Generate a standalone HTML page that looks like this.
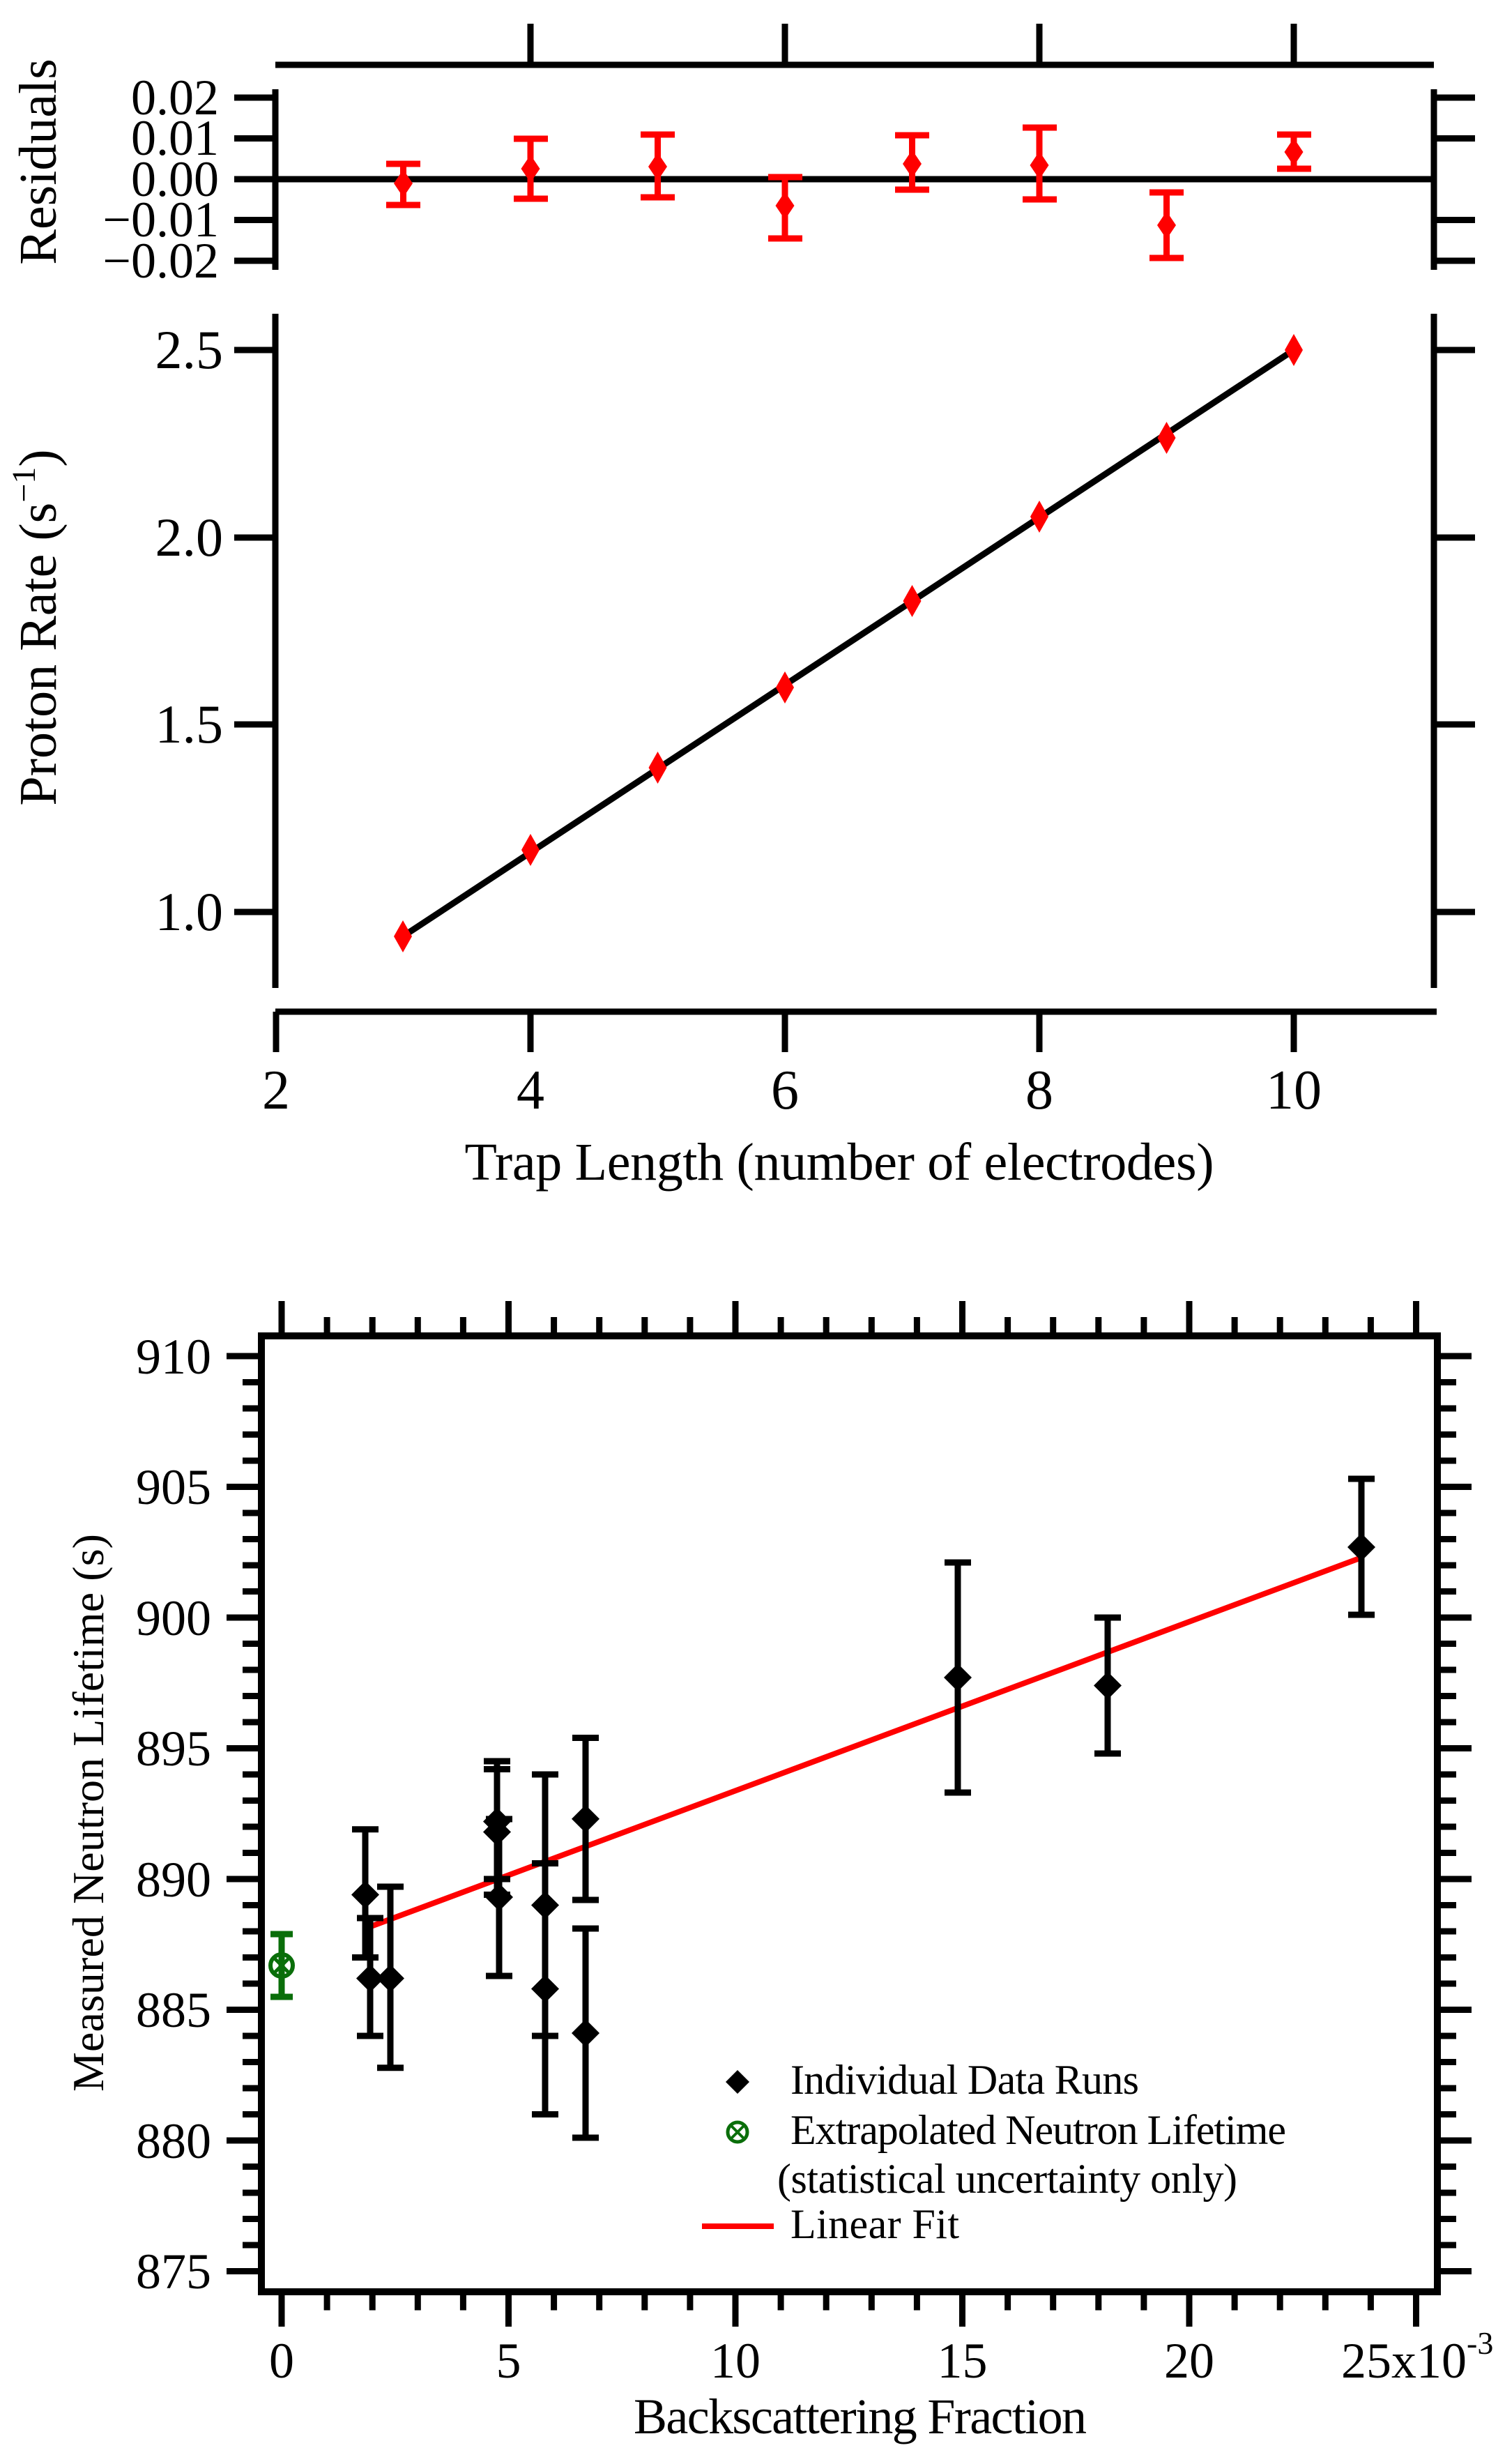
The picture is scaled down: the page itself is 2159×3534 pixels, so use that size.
<!DOCTYPE html>
<html><head><meta charset="utf-8"><style>
html,body{margin:0;padding:0;background:#fff;}
svg{display:block;}
text{font-family:"Liberation Serif",serif;fill:#000;}
</style></head><body>
<svg width="2159" height="3534" viewBox="0 0 2159 3534" xmlns="http://www.w3.org/2000/svg">
<rect width="2159" height="3534" fill="#fff"/>
<g stroke="#000" stroke-width="9" fill="none">
<path d="M395,93H2057 M761,34V93 M1126,34V93 M1491,34V93 M1856,34V93"/>
<path d="M395,128V387 M2057,128V387 M336,140H395 M336,198.5H395 M336,257H395 M336,315.5H395 M336,374H395 M2057,140H2116 M2057,198.5H2116 M2057,315.5H2116 M2057,374H2116"/>
<path d="M395,257H2057"/>
<path d="M395,450V1417 M2057,450V1417 M336,502H395 M336,771H395 M336,1039H395 M336,1308H395 M2057,502H2116 M2057,771H2116 M2057,1039H2116 M2057,1308H2116"/>
<path d="M395,1451H2061 M396,1451V1509 M761,1451V1509 M1126,1451V1509 M1491,1451V1509 M1856,1451V1509"/>
<path d="M578,1343L1856,502"/>
</g>
<g stroke="#f00" stroke-width="9" fill="none">
<path d="M578.5,235V294 M554,235h49 M554,294h49
M761,199V285 M737,199h49 M737,285h49
M943.5,193V283 M919,193h49 M919,283h49
M1126,254V342 M1102,254h49 M1102,342h49
M1308.5,194V272 M1284,194h49 M1284,272h49
M1491,183V286 M1467,183h49 M1467,286h49
M1673.5,276V370 M1649,276h49 M1649,370h49
M1856,193V242 M1832,193h49 M1832,242h49"/>
</g>
<g fill="#f00">
<path d="M578.5,243l13.5,20l-13.5,20l-13.5,-20z M761,222l13.5,20l-13.5,20l-13.5,-20z M943.5,219l13.5,20l-13.5,20l-13.5,-20z M1126,275l13.5,20l-13.5,20l-13.5,-20z M1308.5,215l13.5,20l-13.5,20l-13.5,-20z M1491,217l13.5,20l-13.5,20l-13.5,-20z M1673.5,303l13.5,20l-13.5,20l-13.5,-20z M1856,198l13.5,20l-13.5,20l-13.5,-20z"/>
<path d="M578,1320l13,23l-13,23l-13,-23z M761,1196l13,23l-13,23l-13,-23z M943.5,1078l13,23l-13,23l-13,-23z M1126,963l13,23l-13,23l-13,-23z M1308.5,839l13,23l-13,23l-13,-23z M1491,718l13,23l-13,23l-13,-23z M1673.5,605l13,23l-13,23l-13,-23z M1856,479l13,23l-13,23l-13,-23z"/>
</g>
<g font-size="72" text-anchor="end">
<text x="314" y="164">0.02</text>
<text x="314" y="222">0.01</text>
<text x="314" y="281">0.00</text>
<text x="314" y="339">−0.01</text>
<text x="314" y="398">−0.02</text>
</g>
<g font-size="78" text-anchor="end">
<text x="320" y="528">2.5</text>
<text x="320" y="797">2.0</text>
<text x="320" y="1065">1.5</text>
<text x="320" y="1334">1.0</text>
</g>
<g font-size="80" text-anchor="middle">
<text x="396" y="1590">2</text>
<text x="761" y="1590">4</text>
<text x="1126" y="1590">6</text>
<text x="1491" y="1590">8</text>
<text x="1856" y="1590">10</text>
</g>
<text x="1204" y="1692" font-size="76" text-anchor="middle" textLength="1075">Trap Length (number of electrodes)</text>
<text transform="translate(80,232) rotate(-90)" font-size="76" text-anchor="middle">Residuals</text>
<text transform="translate(80,900) rotate(-90)" font-size="76" text-anchor="middle">Proton Rate (s<tspan dy="-30" font-size="48">−1</tspan><tspan dy="30">)</tspan></text>

<rect x="375" y="1916" width="1687" height="1371" fill="none" stroke="#000" stroke-width="10"/>
<g stroke="#000" fill="none">
<line x1="361.5" y1="1940.5" x2="361.5" y2="3263" stroke-width="27" stroke-dasharray="9 28.5"/>
<line x1="350" y1="1940.5" x2="350" y2="3263" stroke-width="50" stroke-dasharray="9 178.5"/>
<line x1="2075.5" y1="1940.5" x2="2075.5" y2="3263" stroke-width="27" stroke-dasharray="9 28.5"/>
<line x1="2086.5" y1="1940.5" x2="2086.5" y2="3263" stroke-width="49" stroke-dasharray="9 178.5"/>
<line x1="399.5" y1="1902.5" x2="2037" y2="1902.5" stroke-width="27" stroke-dasharray="9 56.1"/>
<line x1="399.5" y1="1891" x2="2037" y2="1891" stroke-width="50" stroke-dasharray="9 316.5"/>
<line x1="399.5" y1="3300" x2="2037" y2="3300" stroke-width="27" stroke-dasharray="9 56.1"/>
<line x1="399.5" y1="3312" x2="2037" y2="3312" stroke-width="50" stroke-dasharray="9 316.5"/>
</g>
<g font-size="72" text-anchor="end">
<text x="303" y="1970">910</text>
<text x="303" y="2157">905</text>
<text x="303" y="2345">900</text>
<text x="303" y="2532">895</text>
<text x="303" y="2720">890</text>
<text x="303" y="2907">885</text>
<text x="303" y="3095">880</text>
<text x="303" y="3282">875</text>
</g>
<g font-size="72" text-anchor="middle">
<text x="404" y="3410">0</text>
<text x="729.5" y="3410">5</text>
<text x="1055" y="3410">10</text>
<text x="1380.5" y="3410">15</text>
<text x="1706" y="3410">20</text>
</g>
<text x="1924" y="3410" font-size="72">25x10<tspan dy="-34" font-size="46">-3</tspan></text>
<text x="1234" y="3490" font-size="72" text-anchor="middle" textLength="650">Backscattering Fraction</text>
<text transform="translate(148,2600) rotate(-90)" font-size="64" text-anchor="middle" textLength="800">Measured Neutron Lifetime (s)</text>

<path d="M524,2766L1953,2234" stroke="#f00" stroke-width="8" fill="none"/>
<g stroke="#000" stroke-width="9" fill="none">
<path d="M524,2623.7V2807.5 M505,2623.7h38 M505,2807.5h38
M531,2751V2920 M512,2751h38 M512,2920h38
M560,2706V2965.7 M541,2706h38 M541,2965.7h38
M713,2526V2695 M694,2526h38 M694,2695h38
M713,2537.5V2717.5 M694,2537.5h38 M694,2717.5h38
M716,2609V2834 M697,2609h38 M697,2834h38
M782,2545V2920 M763,2545h38 M763,2920h38
M782,2672.5V3032.5 M763,2672.5h38 M763,3032.5h38
M840,2492.5V2725 M821,2492.5h38 M821,2725h38
M840,2766V3066 M821,2766h38 M821,3066h38
M1374,2241V2571 M1355,2241h38 M1355,2571h38
M1589,2320V2515 M1570,2320h38 M1570,2515h38
M1953,2121V2316 M1934,2121h38 M1934,2316h38"/>
</g>
<g fill="#000">
<path d="M524,2697.5l20,20l-20,20l-20,-20z M531,2817.5l20,20l-20,20l-20,-20z M560,2817.5l20,20l-20,20l-20,-20z M713,2592.5l20,20l-20,20l-20,-20z M713,2607.5l20,20l-20,20l-20,-20z M716,2701l20,20l-20,20l-20,-20z M782,2712.5l20,20l-20,20l-20,-20z M782,2832.5l20,20l-20,20l-20,-20z M840,2588.75l20,20l-20,20l-20,-20z M840,2896l20,20l-20,20l-20,-20z M1374,2386l20,20l-20,20l-20,-20z M1589,2397.5l20,20l-20,20l-20,-20z M1953,2199l20,20l-20,20l-20,-20z"/>
<path d="M1058,2969l17,17l-17,17l-17,-17z"/>
</g>
<g stroke="#0a6e0a" fill="none" stroke-width="6">
<path d="M404,2774V2864 M388,2774h32 M388,2864h32" stroke-width="9"/>
<circle cx="404" cy="2819" r="16"/>
<path d="M393,2808l22,22 M415,2808l-22,22" stroke-width="5"/>
<circle cx="1058" cy="3058" r="14" stroke-width="5"/>
<path d="M1048,3048l20,20 M1068,3048l-20,20" stroke-width="4"/>
</g>
<path d="M1007,3193H1110" stroke="#f00" stroke-width="8"/>
<g font-size="60">
<text x="1134" y="3003" textLength="500">Individual Data Runs</text>
<text x="1134" y="3075" textLength="711">Extrapolated Neutron Lifetime</text>
<text x="1115" y="3145" textLength="660">(statistical uncertainty only)</text>
<text x="1134" y="3210" textLength="242">Linear Fit</text>
</g>
</svg>
</body></html>
